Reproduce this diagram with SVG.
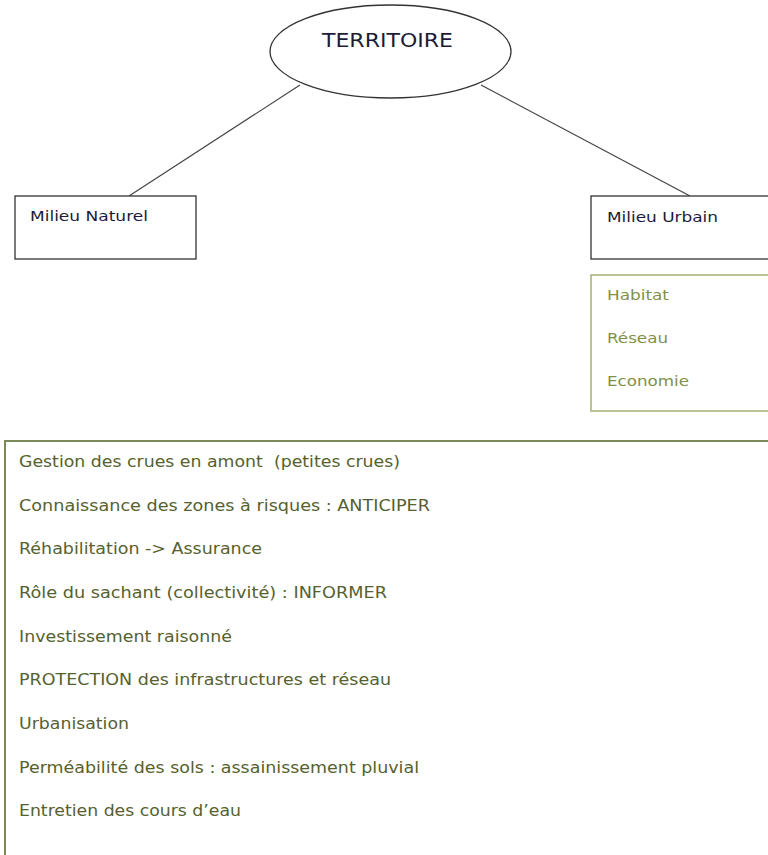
<svg xmlns="http://www.w3.org/2000/svg" width="768" height="855" viewBox="0 0 768 855">
<style>
text{font-family:"DejaVu Sans",Verdana,sans-serif;white-space:pre}
.node{fill:#fff;stroke:#333;stroke-width:1.3}
.dark{fill:#1c1c38;font-size:14px}
.title{fill:#1c1c38;font-size:20px}
.grn{fill:#7f9148;font-size:14px}
.lst{fill:#56612f;font-size:15.5px}
.conn{stroke:#444;stroke-width:1.2;fill:none}
</style>
<rect width="768" height="855" fill="#fff"/>
<g id="connectors">
<line class="conn" x1="300" y1="85" x2="129" y2="196"/>
<line class="conn" x1="481" y1="85" x2="690" y2="196"/>
</g>
<g id="territoire">
<ellipse class="node" cx="390.5" cy="51.5" rx="120.5" ry="46.5"/>
<text class="title" x="322" y="47" textLength="131" lengthAdjust="spacingAndGlyphs">TERRITOIRE</text>
</g>
<g id="milieu-naturel">
<rect class="node" x="15" y="196" width="181" height="63"/>
<text class="dark" x="30" y="221" textLength="118" lengthAdjust="spacingAndGlyphs">Milieu Naturel</text>
</g>
<g id="milieu-urbain">
<rect class="node" x="591" y="196" width="190" height="63"/>
<text class="dark" x="607" y="222" textLength="111" lengthAdjust="spacingAndGlyphs">Milieu Urbain</text>
</g>
<g id="urbain-liste">
<rect x="591" y="275" width="190" height="136" fill="#fff" stroke="#a2b072" stroke-width="1.5"/>
<text class="grn" x="607" y="300" textLength="62" lengthAdjust="spacingAndGlyphs">Habitat</text>
<text class="grn" x="607" y="343" textLength="61" lengthAdjust="spacingAndGlyphs">Réseau</text>
<text class="grn" x="607" y="386" textLength="82" lengthAdjust="spacingAndGlyphs">Economie</text>
</g>
<g id="actions">
<path d="M5 856 V441 H770" fill="none" stroke="#7b8a58" stroke-width="2"/>
<text class="lst" x="19" y="467" textLength="381" lengthAdjust="spacingAndGlyphs">Gestion des crues en amont  (petites crues)</text>
<text class="lst" x="19" y="511" textLength="411" lengthAdjust="spacingAndGlyphs">Connaissance des zones à risques : ANTICIPER</text>
<text class="lst" x="19" y="554" textLength="243" lengthAdjust="spacingAndGlyphs">Réhabilitation -&gt; Assurance</text>
<text class="lst" x="19" y="598" textLength="368" lengthAdjust="spacingAndGlyphs">Rôle du sachant (collectivité) : INFORMER</text>
<text class="lst" x="19" y="642" textLength="213" lengthAdjust="spacingAndGlyphs">Investissement raisonné</text>
<text class="lst" x="19" y="685" textLength="372" lengthAdjust="spacingAndGlyphs">PROTECTION des infrastructures et réseau</text>
<text class="lst" x="19" y="729" textLength="110" lengthAdjust="spacingAndGlyphs">Urbanisation</text>
<text class="lst" x="19" y="773" textLength="400" lengthAdjust="spacingAndGlyphs">Perméabilité des sols : assainissement pluvial</text>
<text class="lst" x="19" y="816" textLength="222" lengthAdjust="spacingAndGlyphs">Entretien des cours d’eau</text>
</g>
</svg>
